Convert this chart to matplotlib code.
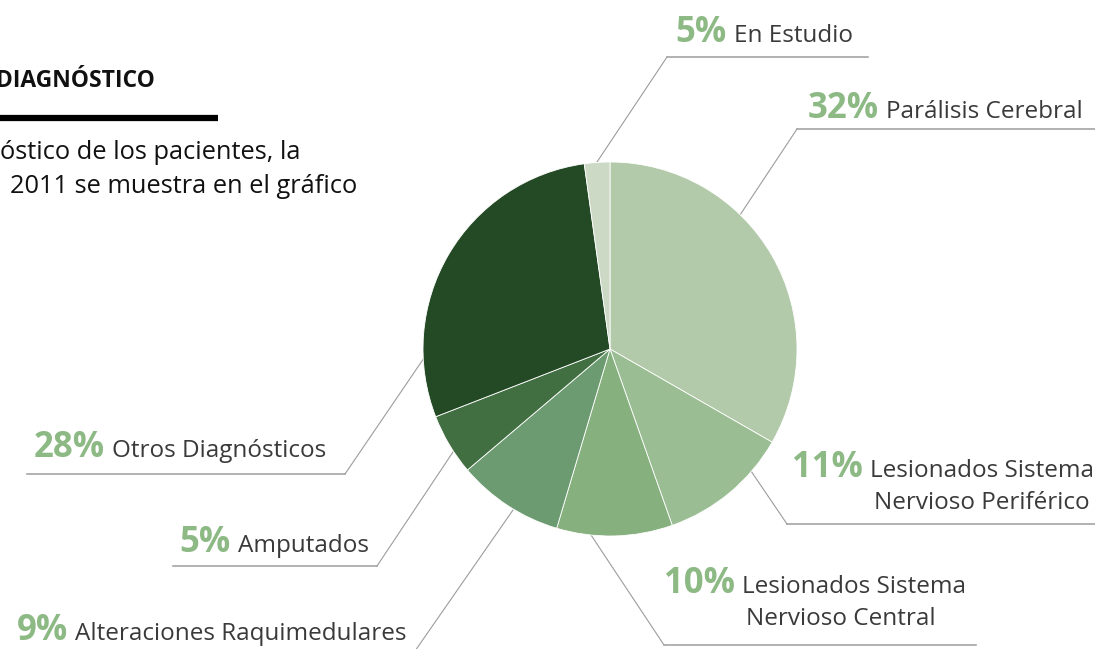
import matplotlib
matplotlib.use('Agg')
import matplotlib.pyplot as plt

# datos del grafico (orden: desde arriba, sentido horario)
categories = ['Parálisis Cerebral', 'Lesionados Sistema\nNervioso Periférico',
              'Lesionados Sistema\nNervioso Central', 'Alteraciones Raquimedulares',
              'Amputados', 'Otros Diagnósticos', 'En Estudio']
shares = [33.3, 11.3, 10.0, 9.2, 5.3, 28.7, 2.2]   # tamaño de cada porción
pct_labels = ['32%', '11%', '10%', '9%', '5%', '28%', '5%']
colors = ['#b2caa9', '#9bbd93', '#86b07e', '#6c9b71', '#426f42', '#234a25', '#cbd9c5']

W, H = 1095, 649
GREEN = '#8cb984'
GREY_TXT = '#3a3a3a'
LINE = '#9c9c9c'
FONT = 'Open Sans'

fig = plt.figure(figsize=(W / 100, H / 100), dpi=100)
ax = fig.add_axes([0, 0, 1, 1])

# pie en coordenadas de pixel (eje y invertido)
ax.pie(shares, colors=colors, center=(610, 349), radius=187,
       startangle=-90, counterclock=True,
       wedgeprops=dict(edgecolor='white', linewidth=0.6, zorder=3))

ax.set_xlim(0, W)
ax.set_ylim(H, 0)
ax.set_aspect('equal')
ax.axis('off')

# posicion de etiquetas: (x del nombre, baseline, linea horizontal, punto en el pie)
layout = [
    (886, 118, (797, 1095, 129), (740, 215)),
    (870, 477, (787, 1095, 524), (751, 471)),
    (742, 593, (664, 976, 645), (591, 535)),
    (75, 640, None, (513, 510)),
    (238, 552, (173, 377, 566), (453, 452)),
    (112, 457, (27, 345, 474), (424, 358)),
    (734, 42, (667, 868, 57), (597, 162)),
]

for name, pct, (xn, yb, hline, tip) in zip(categories, pct_labels, layout):
    ax.text(xn - 7, yb, pct, ha='right', va='baseline', fontsize=25,
            fontweight='bold', color=GREEN, family=FONT)
    lines = name.split('\n')
    for i, ln in enumerate(lines):
        ax.text(xn + (4 if i else 0), yb + 32 * i, ln, ha='left', va='baseline',
                fontsize=17.5, color=GREY_TXT, family=FONT)
    if hline is not None:
        x0, x1, yl = hline
        ax.plot([x0, x1], [yl, yl], color=LINE, lw=1.1, zorder=1)
        # el diagonal sale del extremo cercano al pie
        xs = x0 if abs(x0 - tip[0]) < abs(x1 - tip[0]) else x1
        ax.plot([xs, tip[0]], [yl, tip[1]], color=LINE, lw=0.8, zorder=1)
    else:
        ax.plot([415, tip[0]], [651, tip[1]], color=LINE, lw=0.8, zorder=1)

# bloque de titulo (recortado a la izquierda, como en el original)
ax.text(-4, 87, 'DIAGNÓSTICO', ha='left', va='baseline', fontsize=16.5,
        fontweight='bold', color='#111111', family=FONT)
ax.plot([0, 218], [118, 118], color='black', lw=4.5, solid_capstyle='butt')
ax.text(0, 159, 'óstico de los pacientes, la', ha='left', va='baseline',
        fontsize=18.3, color='#111111', family=FONT)
ax.text(10, 193, '2011 se muestra en el gráfico', ha='left', va='baseline',
        fontsize=18.3, color='#111111', family=FONT)

plt.savefig('out.png', dpi=100)
